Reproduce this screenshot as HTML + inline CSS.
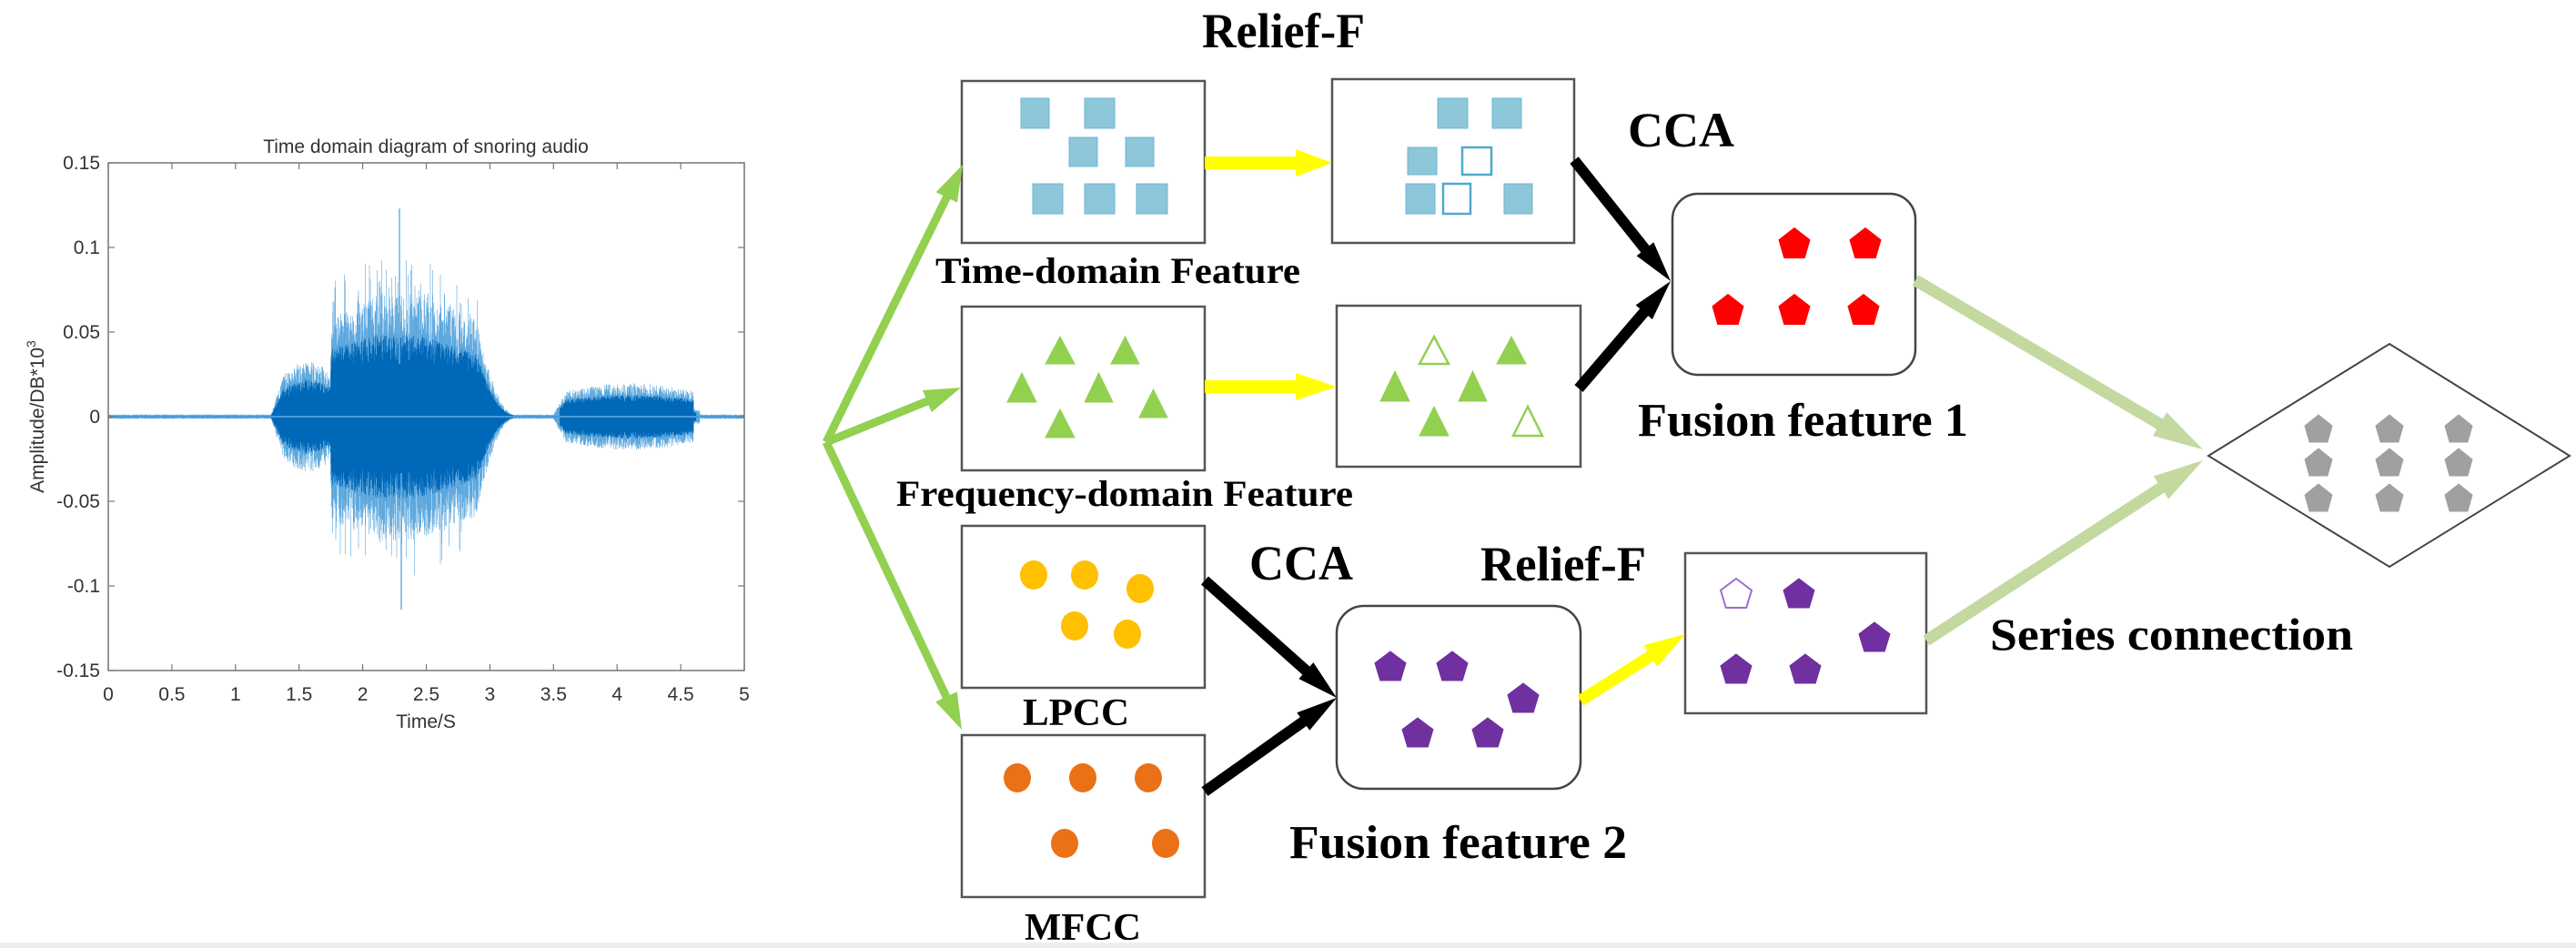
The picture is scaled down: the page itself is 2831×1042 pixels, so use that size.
<!DOCTYPE html>
<html><head><meta charset="utf-8"><style>
html,body{margin:0;padding:0;background:#fff;}
svg{display:block;}
.t{font-family:"Liberation Serif",serif;font-weight:bold;fill:#000;}
.a{font-family:"Liberation Sans",sans-serif;fill:#333;font-size:21px;}
</style></head><body>
<svg id="s" width="2831" height="1042" viewBox="0 0 2831 1042" xmlns="http://www.w3.org/2000/svg">
<rect width="2831" height="1042" fill="#fff"/>
<rect x="0" y="1036" width="2831" height="6" fill="#eeeeee"/>
<text class="a" x="468" y="168" text-anchor="middle" font-size="20">Time domain diagram of snoring audio</text>
<g id="wave"></g>
<rect x="119" y="179" width="699" height="558" fill="none" stroke="#777" stroke-width="1.5"/>
<g id="ticks" stroke="#777" stroke-width="1.2"></g>
<g id="labels"></g>
<text class="a" x="468" y="800" text-anchor="middle">Time/S</text>
<text class="a" transform="translate(48,458) rotate(-90)" text-anchor="middle">Amplitude/DB*10<tspan dy="-9" font-size="14">3</tspan></text>

<g fill="#fff" stroke="#555" stroke-width="2.5">
<rect x="1057" y="89" width="267" height="178"/>
<rect x="1464" y="87" width="266" height="180"/>
<rect x="1057" y="337" width="267" height="180"/>
<rect x="1469" y="336" width="268" height="177"/>
<rect x="1057" y="578" width="267" height="178"/>
<rect x="1057" y="808" width="267" height="178"/>
<rect x="1852" y="608" width="265" height="176"/>
</g>
<g fill="#fff" stroke="#444" stroke-width="2.5">
<rect x="1838" y="213" width="267" height="199" rx="28"/>
<rect x="1469" y="666" width="268" height="201" rx="30"/>
<polygon points="2427,501 2626,378 2824,501 2626,623" stroke-width="2"/>
</g>
<g id="shapes"></g>
<g id="arrows"></g>

<text class="t" x="1321" y="52" font-size="54" textLength="179" lengthAdjust="spacingAndGlyphs">Relief-F</text>
<text class="t" x="1028" y="311" font-size="40" textLength="401" lengthAdjust="spacingAndGlyphs">Time-domain Feature</text>
<text class="t" x="985" y="556" font-size="40" textLength="502" lengthAdjust="spacingAndGlyphs">Frequency-domain Feature</text>
<text class="t" x="1789" y="161" font-size="54" textLength="117" lengthAdjust="spacingAndGlyphs">CCA</text>
<text class="t" x="1800" y="479" font-size="52" textLength="363" lengthAdjust="spacingAndGlyphs">Fusion feature 1</text>
<text class="t" x="1124" y="797" font-size="42" textLength="117" lengthAdjust="spacingAndGlyphs">LPCC</text>
<text class="t" x="1126" y="1033" font-size="42" textLength="128" lengthAdjust="spacingAndGlyphs">MFCC</text>
<text class="t" x="1373" y="637" font-size="54" textLength="114" lengthAdjust="spacingAndGlyphs">CCA</text>
<text class="t" x="1627" y="638" font-size="54" textLength="182" lengthAdjust="spacingAndGlyphs">Relief-F</text>
<text class="t" x="1417" y="943" font-size="52" textLength="371" lengthAdjust="spacingAndGlyphs">Fusion feature 2</text>
<text class="t" x="2187" y="714" font-size="50" textLength="399" lengthAdjust="spacingAndGlyphs">Series connection</text>
</svg>
<script>
var NS="http://www.w3.org/2000/svg";
function el(p,tag,attrs){var e=document.createElementNS(NS,tag);for(var k in attrs)e.setAttribute(k,attrs[k]);document.getElementById(p).appendChild(e);return e;}
var seed=7;function rnd(){seed=(seed*16807)%2147483647;return seed/2147483647;}
function env(t){
 if(t<1.28) return 0.0012;
 if(t<1.38) return 0.0012+(t-1.28)*0.22;
 if(t<1.75) return 0.024+0.006*Math.sin(t*9);
 if(t<2.9) return 0.055+0.012*Math.sin((t-1.75)*3);
 if(t<3.2) return 0.05*Math.pow((3.2-t)/0.3,2)+0.001;
 if(t<3.5) return 0.0012;
 if(t<3.6) return 0.0012+(t-3.5)*0.13;
 if(t<4.6) return 0.014+0.004*Math.sin((t-3.6)*3.14);
 if(t<4.65) return 0.004;
 return 0.0012;
}
var X0=119,SX=139.8,Y0=458,SY=1860;
var light="",dark="";
for(var px=0;px<699;px+=1){
 for(var k=0;k<3;k++){
 var t=(px+k/3)/SX; var e=env(t);
 var up=e*(0.6+0.5*rnd()); var dn=e*(0.6+0.5*rnd());
 if(t>1.75&&t<2.9&&rnd()<0.15){up*=1.3;dn*=1.3;}
 var x=(X0+px+k/3).toFixed(2);
 light+="M"+x+" "+(Y0-up*SY).toFixed(1)+"V"+(Y0+dn*SY).toFixed(1);
 var c=e*0.55*(0.8+0.4*rnd());
 if(t>1.28&&t<3.2||t>3.55&&t<4.62) dark+="M"+x+" "+(Y0-c*SY*1.1).toFixed(1)+"V"+(Y0+c*SY*1.1).toFixed(1);
 }
}
el("wave","path",{d:light,stroke:"#5aa6dd","stroke-width":"0.6",fill:"none"});
el("wave","path",{d:dark,stroke:"#0068b8","stroke-width":"0.7",fill:"none"});
el("wave","path",{d:"M"+X0+" "+Y0+"H818",stroke:"#4a9ad8","stroke-width":"2"});
el("wave","path",{d:"M439 400V"+(Y0-0.123*SY)+"M441 "+(Y0+0.114*SY)+"V520",stroke:"#6ab0e0","stroke-width":"1.5"});
var yv=[0.15,0.1,0.05,0,-0.05,-0.1,-0.15];
yv.forEach(function(v){var y=Y0-v*SY;
 el("ticks","line",{x1:119,y1:y,x2:126,y2:y});el("ticks","line",{x1:818,y1:y,x2:811,y2:y});
 var tx=el("labels","text",{x:110,y:y+7,"text-anchor":"end","class":"a"});tx.textContent=(v===0?"0":String(v));});
for(var i=0;i<=10;i++){var x=X0+i*0.5*SX;
 el("ticks","line",{x1:x,y1:737,x2:x,y2:730});el("ticks","line",{x1:x,y1:179,x2:x,y2:186});
 var tx=el("labels","text",{x:x,y:770,"text-anchor":"middle","class":"a"});tx.textContent=String(i*0.5);}
function sq(x1,x2,y1,y2,filled){el("shapes","rect",{x:x1,y:y1,width:x2-x1,height:y2-y1,fill:filled?"#8ec6da":"#fff",stroke:filled?"#6bb8d4":"#4eaacc","stroke-width":filled?1:2.5});}
sq(1122,1153,108,141,1);sq(1192,1225,108,141,1);sq(1175,1206,151,183,1);sq(1237,1268,151,183,1);
sq(1135,1168,202,235,1);sq(1192,1225,202,235,1);sq(1249,1283,202,235,1);
sq(1580,1613,108,141,1);sq(1640,1672,108,141,1);sq(1547,1579,162,192,1);sq(1607,1639,162,192,0);
sq(1545,1577,202,235,1);sq(1586,1616,202,235,0);sq(1653,1684,202,235,1);
function tri(x1,x2,y1,y2,filled){el("shapes","polygon",{points:((x1+x2)/2)+","+y1+" "+x2+","+y2+" "+x1+","+y2,fill:filled?"#92d050":"#fff",stroke:"#92d050","stroke-width":filled?1:2.5});}
tri(1149,1181,370,400,1);tri(1221,1252,370,400,1);tri(1107,1139,410,442,1);tri(1192,1223,410,442,1);tri(1252,1283,428,459,1);tri(1149,1181,450,481,1);
tri(1560,1592,370,400,0);tri(1645,1677,370,400,1);tri(1517,1549,408,441,1);tri(1603,1634,408,441,1);tri(1560,1592,447,479,1);tri(1663,1695,447,479,0);
function circ(cx,cy,c){el("shapes","ellipse",{cx:cx,cy:cy,rx:15,ry:16,fill:c});}
[[1136,632],[1192,632],[1253,647],[1181,688],[1239,697]].forEach(function(p){circ(p[0],p[1],"#ffc000");});
[[1118,855],[1190,855],[1262,855],[1170,927],[1281,927]].forEach(function(p){circ(p[0],p[1],"#eb7116");});
function pent(cx,cy,w,h,c,filled){var pts=[[cx,cy-h/2],[cx+w/2,cy-h/2+0.4*h],[cx+0.33*w,cy+h/2],[cx-0.33*w,cy+h/2],[cx-w/2,cy-h/2+0.4*h]];
 el("shapes","polygon",{points:pts.map(function(p){return p.join(",")}).join(" "),fill:filled?c:"#fff",stroke:c,"stroke-width":filled?1:2});}
[[1972,267],[2050,267],[1899,340],[1972,340],[2048,340]].forEach(function(p){pent(p[0],p[1],34,33,"#ff0000",1);});
[[1528,732],[1596,732],[1674,767],[1558,805],[1635,805]].forEach(function(p){pent(p[0],p[1],34,32,"#7030a0",1);});
pent(1908,652,34,32,"#9b6fd0",0);
[[1977,652],[2060,700],[1908,735],[1984,735]].forEach(function(p){pent(p[0],p[1],34,32,"#7030a0",1);});
[2548,2626,2702].forEach(function(x){[471,508,547].forEach(function(y){pent(x,y,30,30,"#a0a0a0",1);});});
function arrow(x1,y1,x2,y2,sw,hw,hl,c){var dx=x2-x1,dy=y2-y1,L=Math.sqrt(dx*dx+dy*dy),ux=dx/L,uy=dy/L,nx=-uy,ny=ux;
 var bx=x2-ux*hl,by=y2-uy*hl;
 var P=[[x1+nx*sw/2,y1+ny*sw/2],[bx+nx*sw/2,by+ny*sw/2],[bx+nx*hw/2,by+ny*hw/2],[x2,y2],[bx-nx*hw/2,by-ny*hw/2],[bx-nx*sw/2,by-ny*sw/2],[x1-nx*sw/2,y1-ny*sw/2]];
 el("arrows","polygon",{points:P.map(function(p){return p[0].toFixed(1)+","+p[1].toFixed(1)}).join(" "),fill:c});}
var G="#92d050";
arrow(908,486,1058,181,9,26,40,G);arrow(908,486,1056,426,9,26,40,G);arrow(908,486,1057,802,9,26,40,G);
arrow(1324,179,1464,179,14,30,40,"#ffff00");arrow(1324,425,1469,425,14,30,45,"#ffff00");
arrow(1737,770,1852,697,13,28,45,"#ffff00");
arrow(1730,176,1836,309,12,24,45,"#000");arrow(1735,427,1836,309,12,24,45,"#000");
arrow(1324,638,1469,767,12,24,45,"#000");arrow(1324,870,1469,767,12,24,45,"#000");
var LG="#c3d9a0";
arrow(2105,308,2421,494,13,30,55,LG);arrow(2117,704,2421,506,13,30,55,LG);
</script>
</body></html>
